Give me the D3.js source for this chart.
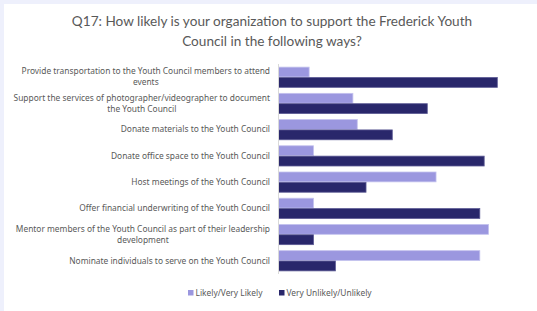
<!DOCTYPE html>
<html>
<head>
<meta charset="utf-8">
<script src="https://cdn.jsdelivr.net/npm/d3@7"></script>
<style>
  body { margin: 0; background: #eef0fc; }
  svg { display: block; }
</style>
</head>
<body>
<div id="chart"></div>
<script>
// survey answers, percent of respondents
const categories = [
  ["Provide transportation to the Youth Council members to attend", "events"],
  ["Support the services of photographer/videographer to document", "the Youth Council"],
  ["Donate materials to the Youth Council"],
  ["Donate office space to the Youth Council"],
  ["Host meetings of the Youth Council"],
  ["Offer financial underwriting of the Youth Council"],
  ["Mentor members of the  Youth Council as part of their leadership", "development"],
  ["Nominate individuals to serve on the Youth Council"]
];
const likely   = [7, 17, 18, 8, 36, 8, 48, 46];
const unlikely = [50, 34, 26, 47, 20, 46, 8, 13];
const seriesNames = ["Likely/Very Likely", "Very Unlikely/Unlikely"];
const colors = ["#9b97df", "#29276b"];
const strokes = ["#c4c2ee", "#5c5a94"];

const width = 537, height = 311;
const margin = {top: 64, left: 278.5, right: 20, bottom: 38};

const svg = d3.select("#chart").append("svg")
    .attr("width", width)
    .attr("height", height);

// white panel
svg.append("rect")
    .attr("x", 4).attr("y", 4)
    .attr("width", width - 4).attr("height", height - 4)
    .attr("fill", "#fff");

const title = svg.append("text")
    .attr("text-anchor", "middle")
    .style("font-family", "Lato, sans-serif")
    .style("font-size", "13.6px")
    .style("fill", "#595959");
title.append("tspan").attr("x", 272).attr("y", 26)
    .text("Q17: How likely is your organization to support the Frederick Youth");
title.append("tspan").attr("x", 272).attr("y", 46)
    .text("Council in the following ways?");

const y = d3.scaleBand()
    .domain(d3.range(categories.length))
    .range([margin.top, 273.5])
    .paddingInner(0.21)
    .paddingOuter(0.1);

const ySub = d3.scaleBand()
    .domain([0, 1])
    .range([0, y.bandwidth()]);

const x = d3.scaleLinear()
    .domain([0, 54.5])
    .range([margin.left, 517]);

const rows = categories.map((c, i) => ({i: i, vals: [likely[i], unlikely[i]]}));

const g = svg.append("g");
rows.forEach(r => {
  r.vals.forEach((v, s) => {
    g.append("rect")
      .attr("x", x(0))
      .attr("y", y(r.i) + ySub(s) + 0.5)
      .attr("width", x(v) - x(0))
      .attr("height", ySub.bandwidth() - 0.5)
      .attr("fill", colors[s])
      .attr("stroke", strokes[s])
      .attr("stroke-width", 0.8);
  });
});

// vertical axis line
svg.append("line")
    .attr("x1", x(0)).attr("x2", x(0))
    .attr("y1", margin.top).attr("y2", 274)
    .attr("stroke", "#d9d9d9")
    .attr("stroke-width", 1);

// category labels
const labels = svg.append("g")
    .style("font-family", "'Noto Sans', sans-serif")
    .style("font-size", "8.4px")
    .style("fill", "#595959");

categories.forEach((lines, i) => {
  const cy = y(i) + y.bandwidth() / 2;
  const t = labels.append("text").attr("text-anchor", "middle");
  lines.forEach((ln, k) => {
    t.append("tspan")
      .attr("y", cy + 3 + (k - (lines.length - 1) / 2) * 11)
      .text(ln);
  });
});
// right align first line, center following lines under it
labels.selectAll("text").each(function() {
  const tsp = d3.select(this).selectAll("tspan");
  const w0 = tsp.nodes()[0].getComputedTextLength();
  tsp.attr("x", 270 - w0 / 2);
});

// legend
const legend = svg.append("g")
    .style("font-family", "'Noto Sans', sans-serif")
    .style("font-size", "8.4px")
    .style("fill", "#595959");
const legX = [188, 279];
seriesNames.forEach((n, s) => {
  legend.append("rect")
    .attr("x", legX[s]).attr("y", 290)
    .attr("width", 5.5).attr("height", 5.5)
    .attr("fill", colors[s]);
  legend.append("text")
    .attr("x", legX[s] + 7.5).attr("y", 296)
    .text(n);
});
</script>
</body>
</html>
